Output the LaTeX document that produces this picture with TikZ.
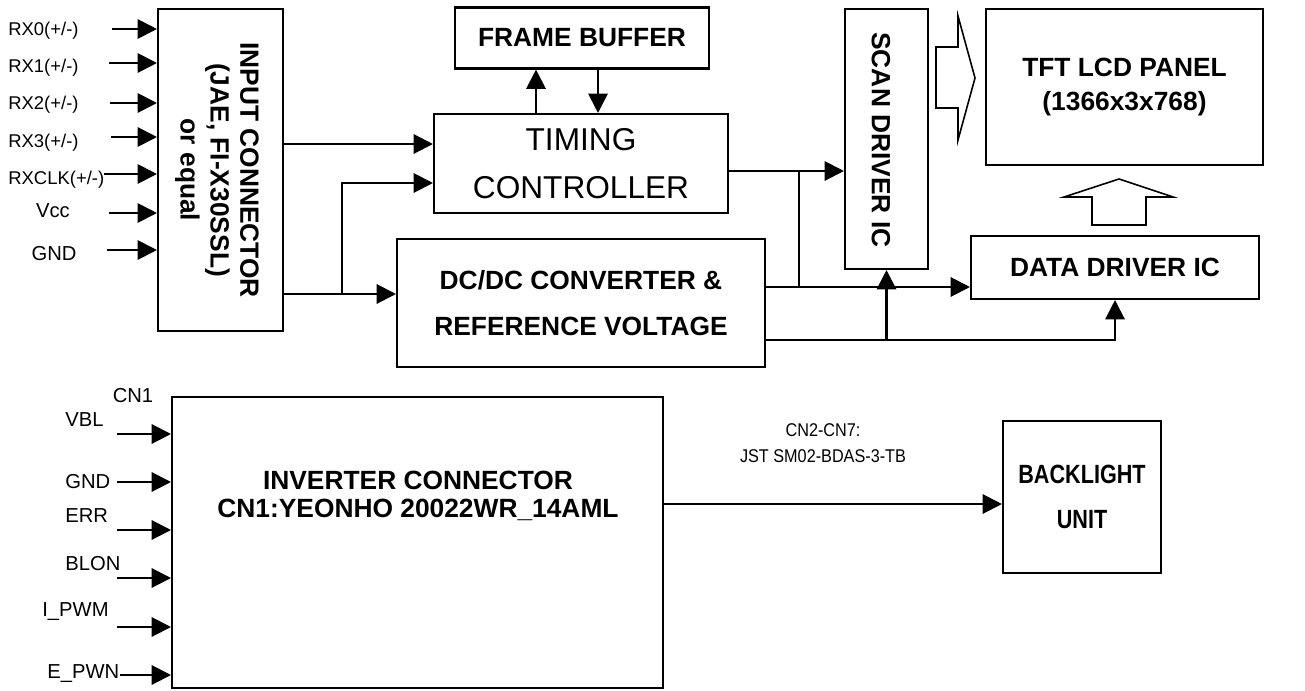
\documentclass[tikz,border=0pt]{standalone}
\usepackage{fontspec}
\setmainfont{Liberation Sans}
\usetikzlibrary{arrows.meta,positioning,calc}

\begin{document}
\begin{tikzpicture}[
  x=0.02cm,y=-0.02cm,
  blk/.style={draw,line width=1.2pt,inner sep=0pt,align=center,
    font=\fontsize{15}{26}\selectfont\bfseries},
  rtxt/.style={rotate=-90,align=center,inner sep=0pt,
    font=\fontsize{15}{17}\selectfont\bfseries},
  stxt/.style={inner sep=0pt,font=\fontsize{11.5}{13}\selectfont},
  sig/.style={-{Triangle[length=11pt,width=11pt]},line width=1.2pt},
  wire/.style={line width=1.2pt},
  hollow/.style={line width=0.9pt,line join=miter}
]
\useasboundingbox (0,0) rectangle (1305,690);

% blocks
\node[blk,minimum width=2.5cm,minimum height=6.44cm] (inconn) at (220.5,170) {};
\node[rtxt] (inconntxt) at (217,170) {INPUT CONNECTOR\\(JAE, FI-X30SSL)\\or equal};
\node[blk,minimum width=5.08cm,minimum height=1.22cm] (frame) at (582,38) {FRAME BUFFER};
\node[blk,minimum width=5.88cm,minimum height=1.98cm,
  font=\fontsize{18}{27}\selectfont] (timing) at (581,163.5) {TIMING\\CONTROLLER};
\node[blk,minimum width=7.36cm,minimum height=2.56cm] (dcdc) at (581,303)
  {DC/DC CONVERTER \&\\REFERENCE VOLTAGE};
\node[blk,minimum width=1.66cm,minimum height=5.2cm] (scan) at (886.5,139) {};
\node[rtxt] (scantxt) at (881,140) {SCAN DRIVER IC};
\node[blk,minimum width=5.54cm,minimum height=3.12cm,
  font=\fontsize{15}{19}\selectfont\bfseries] (tft) at (1124.5,87)
  {TFT LCD PANEL\\(1366x3x768)};
\node[blk,minimum width=5.76cm,minimum height=1.26cm] (data) at (1115,267.5) {DATA DRIVER IC};
\node[blk,minimum width=9.82cm,minimum height=5.82cm] (inverter) at (417.5,542.5) {};
\node[align=center,inner sep=0pt,font=\fontsize{15}{16}\selectfont\bfseries]
  (invtxt) at (418,496) {INVERTER CONNECTOR\\CN1:YEONHO 20022WR\_14AML};
\node[blk,minimum width=3.16cm,minimum height=3.04cm] (backlight) at (1082,497)
  {\scalebox{0.82}[1]{BACKLIGHT}\\\scalebox{0.82}[1]{UNIT}};

% LVDS inputs
\node[stxt,anchor=west,font=\fontsize{10.5}{13}\selectfont] (lrx0) at (8,31) {RX0(+/-)};
\node[stxt,anchor=west,font=\fontsize{10.5}{13}\selectfont] (lrx1) at (8,68) {RX1(+/-)};
\node[stxt,anchor=west,font=\fontsize{10.5}{13}\selectfont] (lrx2) at (8,105) {RX2(+/-)};
\node[stxt,anchor=west,font=\fontsize{10.5}{13}\selectfont] (lrx3) at (8,143) {RX3(+/-)};
\node[stxt,anchor=west,font=\fontsize{10.5}{13}\selectfont] (lrxclk) at (8,180) {RXCLK(+/-)};
\node[stxt] (lvcc) at (53,211) {Vcc};
\node[stxt] (lgnd) at (54,254) {GND};
\coordinate (arx0) at (112,29);
\coordinate (arx1) at (109,63);
\coordinate (arx2) at (110,103);
\coordinate (arx3) at (111,137);
\coordinate (arxclk) at (104,174);
\coordinate (avcc) at (109,213);
\coordinate (agnd) at (107,250);
\draw[sig] (arx0) -- (arx0 -| inconn.west);
\draw[sig] (arx1) -- (arx1 -| inconn.west);
\draw[sig] (arx2) -- (arx2 -| inconn.west);
\draw[sig] (arx3) -- (arx3 -| inconn.west);
\draw[sig] (arxclk) -- (arxclk -| inconn.west);
\draw[sig] (avcc) -- (avcc -| inconn.west);
\draw[sig] (agnd) -- (agnd -| inconn.west);

% signal paths
\draw[sig] (inconn.east |- 0,144) -- (timing.west |- 0,144);
\draw[sig] (inconn.east |- 0,294) -- (dcdc.west |- 0,294);
\coordinate (j1) at (342,294);
\draw[sig] (j1) |- (timing.west |- 0,183);
\draw[sig] (timing.north -| 536,0) -- (frame.south -| 536,0);
\draw[sig] (frame.south -| 598,0) -- (timing.north -| 598,0);
\draw[sig] (timing.east |- 0,171) -- (scan.west |- 0,171);
\coordinate (j2) at (799,171);
\draw[wire] (j2) -- (j2 |- 0,287);
\draw[sig] (dcdc.east |- 0,287) -- (data.west |- 0,287);
\draw[sig] (dcdc.east |- 0,340) -| (data.south);
\draw[sig] (scan.south |- 0,340) -- (scan.south);

% hollow arrows
\draw[hollow] (936,47) -- (958,47) -- (958,16) -- (975,78) -- (958,140)
  -- (958,108) -- (936,108) -- cycle;
\draw[hollow] (1092,225) -- (1092,197) -- (1064,197) -- (1119,179)
  -- (1173,197) -- (1146,197) -- (1146,225) -- cycle;

% inverter inputs
\node[stxt] (lcn1) at (133,396) {CN1};
\node[stxt,anchor=west] (lvbl) at (65,420) {VBL};
\node[stxt,anchor=west] (lgnd2) at (65,482) {GND};
\node[stxt,anchor=west] (lerr) at (65,516) {ERR};
\node[stxt,anchor=west] (lblon) at (65,564) {BLON};
\node[stxt,anchor=west] (lipwm) at (42,612) {I\_PWM};
\node[stxt,anchor=west] (lepwn) at (47,674) {E\_PWN};
\coordinate (avbl) at (117,434);
\coordinate (agnd2) at (117,482);
\coordinate (aerr) at (117,530);
\coordinate (ablon) at (117,578);
\coordinate (aipwm) at (117,627);
\coordinate (aepwn) at (120,675);
\draw[sig] (avbl) -- (avbl -| inverter.west);
\draw[sig] (agnd2) -- (agnd2 -| inverter.west);
\draw[sig] (aerr) -- (aerr -| inverter.west);
\draw[sig] (ablon) -- (ablon -| inverter.west);
\draw[sig] (aipwm) -- (aipwm -| inverter.west);
\draw[sig] (aepwn) -- (aepwn -| inverter.west);

% backlight link
\draw[sig] (inverter.east |- 0,504) -- (backlight.west |- 0,504);
\node[align=center,inner sep=0pt,font=\fontsize{10.5}{14.5}\selectfont] (cnlbl)
  at (823,443) {\scalebox{0.88}[1]{CN2-CN7:}\\\scalebox{0.88}[1]{JST SM02-BDAS-3-TB}};
\end{tikzpicture}
\end{document}
